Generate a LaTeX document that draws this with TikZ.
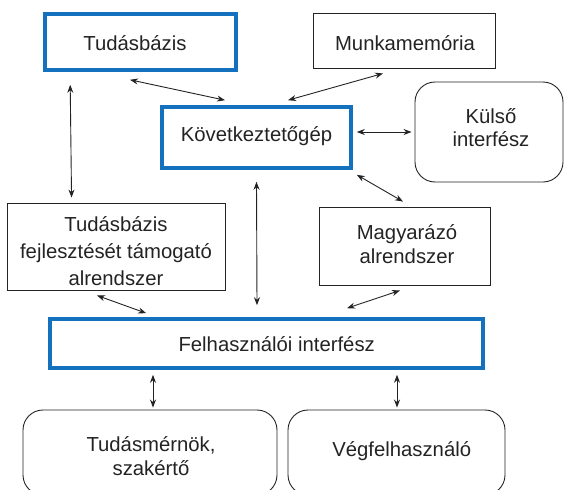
\documentclass[tikz,border=0pt]{standalone}
\usepackage{fontspec}
\setmainfont{Liberation Sans}
\usetikzlibrary{arrows.meta}
\definecolor{frameblue}{RGB}{20,113,190}
\definecolor{inkgray}{RGB}{35,35,35}
\begin{document}
\begin{tikzpicture}[x=1pt,y=-1pt,
  txt/.style={font=\fontsize{20.3}{24}\selectfont, text=inkgray, inner sep=0pt, anchor=base},
  plainbox/.style={draw=inkgray, line width=0.9pt, rectangle, inner sep=0pt},
  bluebox/.style={draw=frameblue, line width=3.6pt, rectangle, inner sep=0pt},
  roundbox/.style={draw=inkgray, line width=0.9pt, rectangle, rounded corners=20pt, inner sep=0pt},
  arr/.style={draw=inkgray, line width=0.9pt, {Stealth[length=8pt,width=6pt]}-{Stealth[length=8pt,width=6pt]}}]
\useasboundingbox (0,0) rectangle (565,490);
\clip (0,0) rectangle (565,490);

% component frames
\node[bluebox, minimum width=191pt, minimum height=56pt] (tb) at (140.5,42) {};
\node[plainbox, minimum width=182pt, minimum height=55pt] (mm) at (404,40.5) {};
\node[bluebox, minimum width=189pt, minimum height=61pt] (kg) at (256.5,137.5) {};
\node[roundbox, minimum width=148pt, minimum height=100pt] (ki) at (489,132) {};
\node[plainbox, minimum width=218pt, minimum height=87pt] (tf) at (116,246.5) {};
\node[plainbox, minimum width=171pt, minimum height=78pt] (ma) at (404.5,246) {};
\node[bluebox, minimum width=433pt, minimum height=49pt] (fi) at (266.5,343.5) {};
\node[roundbox, minimum width=254pt, minimum height=85pt] (tm) at (150,452.5) {};
\node[roundbox, minimum width=217pt, minimum height=85pt] (vf) at (396.5,452.5) {};

% labels, one node per printed line, set on its baseline
\node[txt] (tb-l1) at (135,50.7) {Tudásbázis};
\node[txt] (mm-l1) at (405,50.7) {Munkamemória};
\node[txt] (kg-l1) at (256.5,141.7) {Következtetőgép};
\node[txt] (ki-l1) at (491,123.3) {Külső};
\node[txt] (ki-l2) at (491,146.7) {interfész};
\node[txt] (tf-l1) at (116,231) {Tudásbázis};
\node[txt] (tf-l2) at (116,258.3) {fejlesztését támogató};
\node[txt] (tf-l3) at (116,285) {alrendszer};
\node[txt] (ma-l1) at (407,239.3) {Magyarázó};
\node[txt] (ma-l2) at (407,263.3) {alrendszer};
\node[txt] (fi-l1) at (276.7,351.7) {Felhasználói interfész};
\node[txt] (tm-l1) at (151,451.7) {Tudásmérnök,};
\node[txt] (tm-l2) at (151,475) {szakértő};
\node[txt] (vf-l1) at (401.7,456.7) {Végfelhasználó};

% connectors
\draw[arr] ([xshift=-10.5pt,yshift=-8pt]tb.south) -- ([xshift=-31.5pt,yshift=5pt]kg.north);
\draw[arr] ([xshift=-21pt,yshift=-5pt]mm.south) -- ([xshift=31.5pt,yshift=5pt]kg.north);
\draw[arr] ([xshift=4pt,yshift=5.5pt]kg.east) -- ([xshift=-3pt]ki.west);
\draw[arr] ([xshift=4pt,yshift=-5pt]kg.south east) -- ([xshift=-1.5pt,yshift=5pt]ma.north);
\draw[arr] ([xshift=27pt,yshift=-13pt]tb.south west) -- ([xshift=65pt,yshift=5pt]tf.north west);
\draw[arr] ([yshift=-12pt]kg.south) -- ([xshift=-9.5pt,yshift=12pt]fi.north);
\draw[arr] ([xshift=-19pt,yshift=-5pt]tf.south) -- ([xshift=98pt,yshift=4pt]fi.north west);
\draw[arr] ([xshift=-4.5pt,yshift=-5pt]ma.south) -- ([xshift=80.5pt,yshift=9pt]fi.north);
\draw[arr] ([xshift=-113.5pt,yshift=-5pt]fi.south) -- ([xshift=3pt,yshift=2pt]tm.north);
\draw[arr] ([xshift=130.5pt,yshift=-5pt]fi.south) -- ([xshift=0.5pt,yshift=2pt]vf.north);
\end{tikzpicture}
\end{document}
